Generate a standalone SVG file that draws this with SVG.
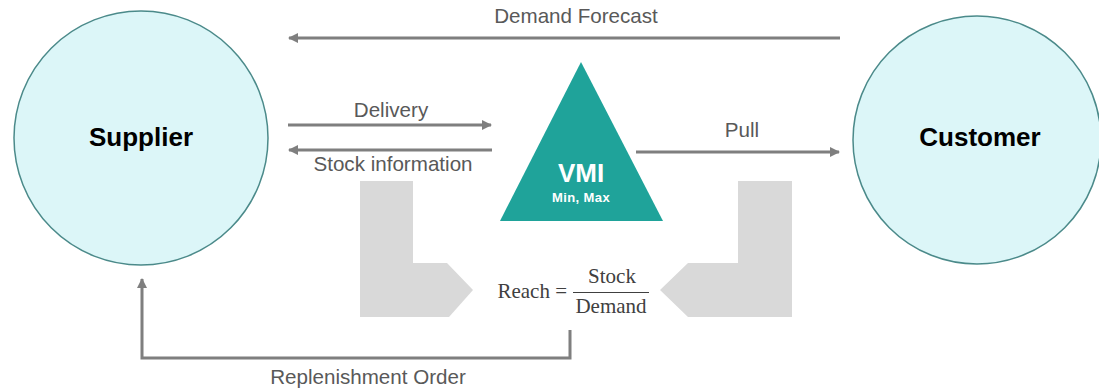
<svg xmlns="http://www.w3.org/2000/svg" width="1099" height="389" viewBox="0 0 1099 389">
<style>
.lbl{font-family:"Liberation Sans",Arial,sans-serif;font-size:20.6px;fill:#595959;text-anchor:middle}
.node{fill:#dcf6f8;stroke:#4b8a8a;stroke-width:1.5}
.ntext{font-family:"Liberation Sans",Arial,sans-serif;font-size:26px;font-weight:bold;fill:#000;text-anchor:middle}
.conn{fill:none;stroke:#7f7f7f;stroke-width:3}
.gray{fill:#d9d9d9}
.math{font-family:"Liberation Serif","DejaVu Serif",serif;font-size:21px;fill:#404040}
</style>
<defs>
<marker id="ah" viewBox="0 0 10 10" refX="9" refY="5" markerWidth="3.4" markerHeight="3.4" orient="auto" markerUnits="strokeWidth">
<path d="M0,0 L10,5 L0,10 z" fill="#7f7f7f"/>
</marker>
</defs>
<rect width="1099" height="389" fill="#ffffff"/>
<g id="supplier">
<circle class="node" cx="141" cy="138" r="127"/>
<text class="ntext" x="141" y="146">Supplier</text>
</g>
<g id="customer">
<circle class="node" cx="977" cy="140" r="124"/>
<text class="ntext" x="980" y="146">Customer</text>
</g>
<g id="vmi">
<polygon points="581,62 500,221 663,221" fill="#1fa39a"/>
<text x="581" y="182" font-family="Liberation Sans,Arial,sans-serif" font-size="26" font-weight="bold" fill="#ffffff" text-anchor="middle">VMI</text>
<text x="581" y="202" font-family="Liberation Sans,Arial,sans-serif" font-size="13" font-weight="bold" fill="#ffffff" text-anchor="middle" letter-spacing="0.4">Min, Max</text>
</g>
<g id="reach-left">
<polygon class="gray" points="360,181 413,181 413,263 447,263 473,290 449,317 360,317"/>
</g>
<g id="reach-right">
<polygon class="gray" points="792,181 738,181 738,263 688,263 660,290 688,317 792,317"/>
</g>
<g id="reach">
<text class="math" x="567" y="298" text-anchor="end">Reach =</text>
<text class="math" x="612" y="283" text-anchor="middle">Stock</text>
<line x1="573" y1="292.5" x2="649" y2="292.5" stroke="#404040" stroke-width="1"/>
<text class="math" x="611" y="313" text-anchor="middle">Demand</text>
</g>
<g id="connectors">
<line class="conn" x1="840" y1="38" x2="289" y2="38" marker-end="url(#ah)"/>
<text class="lbl" x="576" y="23">Demand Forecast</text>
<line class="conn" x1="288" y1="125" x2="491" y2="125" marker-end="url(#ah)"/>
<text class="lbl" x="391" y="117">Delivery</text>
<line class="conn" x1="492" y1="150" x2="289" y2="150" marker-end="url(#ah)"/>
<text class="lbl" x="393" y="171">Stock information</text>
<line class="conn" x1="636" y1="152" x2="839" y2="152" marker-end="url(#ah)"/>
<text class="lbl" x="742" y="137">Pull</text>
<polyline class="conn" points="570,330 570,358 142,358 142,279" marker-end="url(#ah)"/>
<text class="lbl" x="368" y="384">Replenishment Order</text>
</g>
</svg>
